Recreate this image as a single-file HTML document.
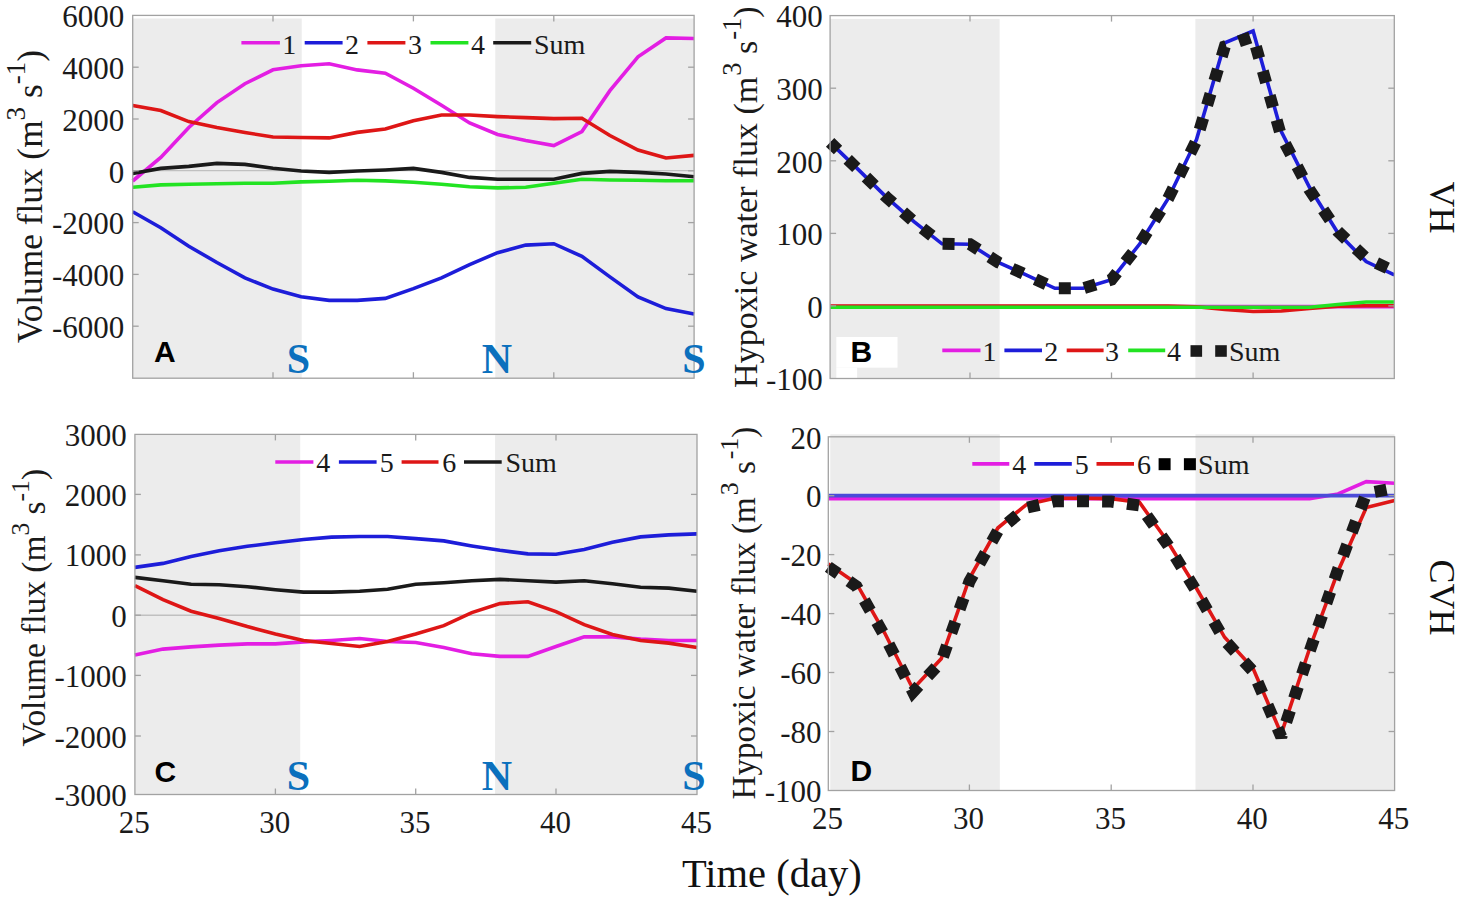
<!DOCTYPE html>
<html><head><meta charset="utf-8"><title>Hypoxic water flux</title>
<style>
html,body{margin:0;padding:0;background:#fff;}
body{width:1462px;height:904px;overflow:hidden;}
svg{display:block;}
text{font-family:"Liberation Serif",serif;fill:#1a1a1a;}
.tick text{font-size:31px;}
.leg text{font-size:28px;}
.pl{font-family:"Liberation Sans",sans-serif;font-weight:700;font-size:30px;fill:#000;}
.sn text{font-family:"Liberation Serif",serif;font-weight:700;font-size:42px;fill:#0b70bd;text-anchor:middle;}
.axl{fill:#111;}
</style></head>
<body>
<svg width="1462" height="904" viewBox="0 0 1462 904">
<rect width="1462" height="904" fill="#fff"/>
<rect x="132.7" y="18.5" width="169.0" height="359.7" fill="#ececec"/>
<rect x="495.3" y="18.5" width="198.8" height="359.7" fill="#ececec"/>
<line x1="132.7" y1="170.6" x2="694.1" y2="170.6" stroke="#c0c0c0" stroke-width="1.4"/>
<polyline points="132.7,181.0 160.8,157.4 188.8,127.5 216.9,102.6 244.9,83.7 273.0,69.8 301.1,65.8 329.2,63.8 357.2,69.9 385.3,73.2 413.4,88.2 441.5,105.3 469.6,123.0 497.6,134.5 525.7,140.5 553.8,145.5 581.9,131.5 609.9,90.7 638.0,56.8 666.0,37.9 694.1,38.5" fill="none" stroke="#e31ee3" stroke-width="3.6" stroke-linejoin="miter" stroke-linecap="butt" />
<polyline points="132.7,211.8 160.8,227.7 188.8,246.2 216.9,262.5 244.9,277.9 273.0,289.1 301.1,296.7 329.2,300.4 357.2,300.4 385.3,298.4 413.4,288.6 441.5,277.9 469.6,264.6 497.6,252.7 525.7,245.1 553.8,243.7 581.9,256.4 609.9,276.9 638.0,296.9 666.0,308.6 694.1,314.1" fill="none" stroke="#1d1dd9" stroke-width="3.6" stroke-linejoin="miter" stroke-linecap="butt" />
<polyline points="132.7,105.6 160.8,110.6 188.8,121.6 216.9,127.5 244.9,132.5 273.0,137.0 301.1,137.5 329.2,137.9 357.2,132.4 385.3,129.1 413.4,120.8 441.5,115.0 469.6,115.0 497.6,116.6 525.7,117.6 553.8,118.6 581.9,118.2 609.9,135.5 638.0,150.0 666.0,158.0 694.1,155.4" fill="none" stroke="#de1616" stroke-width="3.6" stroke-linejoin="miter" stroke-linecap="butt" />
<polyline points="132.7,187.3 160.8,184.9 188.8,184.3 216.9,183.7 244.9,183.3 273.0,183.3 301.1,181.9 329.2,181.3 357.2,180.3 385.3,180.9 413.4,182.3 441.5,184.3 469.6,186.7 497.6,187.9 525.7,187.3 553.8,183.3 581.9,179.3 609.9,180.0 638.0,180.3 666.0,180.7 694.1,180.7" fill="none" stroke="#22e322" stroke-width="3.6" stroke-linejoin="miter" stroke-linecap="butt" />
<polyline points="132.7,173.4 160.8,168.4 188.8,166.4 216.9,163.4 244.9,164.4 273.0,168.2 301.1,171.0 329.2,172.4 357.2,171.0 385.3,170.0 413.4,168.4 441.5,172.4 469.6,177.4 497.6,179.3 525.7,179.3 553.8,179.3 581.9,173.4 609.9,171.4 638.0,172.4 666.0,174.0 694.1,176.8" fill="none" stroke="#1a1a1a" stroke-width="3.6" stroke-linejoin="miter" stroke-linecap="butt" />
<g stroke-width="3.6"><line x1="241.4" y1="42.7" x2="279.9" y2="42.7" stroke="#e31ee3"/><line x1="304.7" y1="42.7" x2="342.6" y2="42.7" stroke="#1d1dd9"/><line x1="367.4" y1="42.7" x2="405.4" y2="42.7" stroke="#de1616"/><line x1="430.5" y1="42.7" x2="468.4" y2="42.7" stroke="#22e322"/><line x1="493.2" y1="42.7" x2="531.2" y2="42.7" stroke="#1a1a1a"/></g>
<g class="leg"><text x="282.3" y="53.8">1</text><text x="345.0" y="53.8">2</text><text x="408.0" y="53.8">3</text><text x="471.0" y="53.8">4</text><text x="534.0" y="53.8">Sum</text></g>
<g stroke="#a2a2a2" stroke-width="1.3" fill="none"><line x1="132.7" y1="67.2" x2="138.7" y2="67.2"/><line x1="694.1" y1="67.2" x2="688.1" y2="67.2"/><line x1="132.7" y1="119.0" x2="138.7" y2="119.0"/><line x1="694.1" y1="119.0" x2="688.1" y2="119.0"/><line x1="132.7" y1="170.8" x2="138.7" y2="170.8"/><line x1="694.1" y1="170.8" x2="688.1" y2="170.8"/><line x1="132.7" y1="222.6" x2="138.7" y2="222.6"/><line x1="694.1" y1="222.6" x2="688.1" y2="222.6"/><line x1="132.7" y1="274.4" x2="138.7" y2="274.4"/><line x1="694.1" y1="274.4" x2="688.1" y2="274.4"/><line x1="132.7" y1="326.2" x2="138.7" y2="326.2"/><line x1="694.1" y1="326.2" x2="688.1" y2="326.2"/><line x1="273.0" y1="15.4" x2="273.0" y2="21.4"/><line x1="273.0" y1="378.2" x2="273.0" y2="372.2"/><line x1="413.4" y1="15.4" x2="413.4" y2="21.4"/><line x1="413.4" y1="378.2" x2="413.4" y2="372.2"/><line x1="553.8" y1="15.4" x2="553.8" y2="21.4"/><line x1="553.8" y1="378.2" x2="553.8" y2="372.2"/><rect x="132.7" y="15.4" width="561.4" height="362.8" fill="none"/></g>
<g class="tick"><text x="124.3" y="27.1" text-anchor="end" font-size="31">6000</text><text x="124.3" y="78.9" text-anchor="end" font-size="31">4000</text><text x="124.3" y="130.7" text-anchor="end" font-size="31">2000</text><text x="124.3" y="182.5" text-anchor="end" font-size="31">0</text><text x="124.3" y="234.3" text-anchor="end" font-size="31">-2000</text><text x="124.3" y="286.1" text-anchor="end" font-size="31">-4000</text><text x="124.3" y="337.9" text-anchor="end" font-size="31">-6000</text></g>
<text class="pl" x="154.0" y="362">A</text>
<g class="sn"><text x="298.4" y="373">S</text><text x="497" y="373">N</text><text x="694" y="373">S</text></g>
<rect x="830.1" y="18.9" width="169.5" height="359.6" fill="#ececec"/>
<rect x="1195.4" y="18.9" width="198.9" height="359.6" fill="#ececec"/>
<line x1="830.1" y1="305.9" x2="1394.3" y2="305.9" stroke="#c0c0c0" stroke-width="1.4"/>
<polyline points="830.1,306.6 858.1,306.6 886.1,306.6 914.0,306.6 942.0,306.6 970.0,306.6 998.3,306.6 1026.6,306.6 1054.9,306.6 1083.2,306.6 1111.5,306.6 1139.8,306.6 1168.1,306.6 1196.5,306.6 1224.8,306.6 1253.1,306.6 1281.3,306.6 1309.6,306.6 1337.8,306.6 1366.1,306.6 1394.3,306.6" fill="none" stroke="#e31ee3" stroke-width="3.6" stroke-linejoin="miter" stroke-linecap="butt" />
<polyline points="830.1,142.4 858.1,169.4 886.1,196.9 914.0,221.7 942.0,243.8 970.0,244.2 998.3,262.4 1026.6,275.1 1054.9,288.3 1083.2,288.3 1111.5,279.6 1139.8,243.8 1168.1,198.7 1196.5,139.5 1224.8,42.9 1253.1,31.0 1281.3,131.5 1309.6,187.5 1337.8,232.8 1366.1,261.6 1394.3,274.8" fill="none" stroke="#1d1dd9" stroke-width="3.6" stroke-linejoin="miter" stroke-linecap="butt" />
<polyline points="830.1,306.0 858.1,306.0 886.1,306.0 914.0,306.0 942.0,306.0 970.0,306.0 998.3,306.0 1026.6,306.0 1054.9,306.0 1083.2,306.0 1111.5,306.0 1139.8,306.0 1168.1,306.0 1196.5,306.8 1224.8,309.5 1253.1,311.5 1281.3,311.0 1309.6,308.5 1337.8,306.2 1366.1,305.8 1394.3,305.8" fill="none" stroke="#de1616" stroke-width="3.6" stroke-linejoin="miter" stroke-linecap="butt" />
<polyline points="830.1,307.3 858.1,307.3 886.1,307.3 914.0,307.3 942.0,307.3 970.0,307.3 998.3,307.3 1026.6,307.3 1054.9,307.3 1083.2,307.3 1111.5,307.3 1139.8,307.3 1168.1,307.3 1196.5,307.3 1224.8,307.3 1253.1,307.3 1281.3,307.3 1309.6,307.3 1337.8,304.5 1366.1,302.0 1394.3,302.0" fill="none" stroke="#22e322" stroke-width="3.6" stroke-linejoin="miter" stroke-linecap="butt" />
<polyline points="830.1,142.4 858.1,169.4 886.1,196.9 914.0,221.7 942.0,243.8 970.0,244.2 998.3,262.4 1026.6,275.1 1054.9,288.3 1083.2,288.3 1111.5,279.6 1139.8,243.8 1168.1,198.7 1196.5,140.3 1224.8,46.4 1253.1,36.5 1281.3,136.5 1309.6,190.0 1337.8,231.3 1366.1,258.2 1394.3,271.4" fill="none" stroke="#1a1a1a" stroke-width="12.0" stroke-linejoin="miter" stroke-linecap="butt" stroke-dasharray="12.0 13.45" stroke-dashoffset="1" stroke-miterlimit="2"/>
<rect x="836.3" y="337" width="61.2" height="30.7" fill="#fff"/><rect x="836.3" y="367.7" width="20.8" height="10.3" fill="#fff"/>
<text class="pl" x="850.5" y="361.8">B</text>
<g stroke-width="3.6"><line x1="942.3" y1="350.4" x2="980.5" y2="350.4" stroke="#e31ee3"/><line x1="1004.4" y1="350.4" x2="1042" y2="350.4" stroke="#1d1dd9"/><line x1="1066.7" y1="350.4" x2="1103.6" y2="350.4" stroke="#de1616"/><line x1="1128.2" y1="350.4" x2="1165.2" y2="350.4" stroke="#22e322"/></g>
<rect x="1190.5" y="345.2" width="11.6" height="11.6" fill="#1a1a1a"/><rect x="1215.2" y="345.2" width="11.6" height="11.6" fill="#1a1a1a"/>
<g class="leg"><text x="982.6" y="360.5">1</text><text x="1044.2" y="360.5">2</text><text x="1105.0" y="360.5">3</text><text x="1167.1" y="360.5">4</text><text x="1228.9" y="360.5">Sum</text></g>
<g stroke="#a2a2a2" stroke-width="1.3" fill="none"><line x1="830.1" y1="88.2" x2="836.1" y2="88.2"/><line x1="1394.3" y1="88.2" x2="1388.3" y2="88.2"/><line x1="830.1" y1="160.8" x2="836.1" y2="160.8"/><line x1="1394.3" y1="160.8" x2="1388.3" y2="160.8"/><line x1="830.1" y1="233.4" x2="836.1" y2="233.4"/><line x1="1394.3" y1="233.4" x2="1388.3" y2="233.4"/><line x1="830.1" y1="305.9" x2="836.1" y2="305.9"/><line x1="1394.3" y1="305.9" x2="1388.3" y2="305.9"/><line x1="970.0" y1="15.6" x2="970.0" y2="21.6"/><line x1="970.0" y1="378.5" x2="970.0" y2="372.5"/><line x1="1111.5" y1="15.6" x2="1111.5" y2="21.6"/><line x1="1111.5" y1="378.5" x2="1111.5" y2="372.5"/><line x1="1253.1" y1="15.6" x2="1253.1" y2="21.6"/><line x1="1253.1" y1="378.5" x2="1253.1" y2="372.5"/><rect x="830.1" y="15.6" width="564.2" height="362.9" fill="none"/></g>
<g class="tick"><text x="822.8" y="27.3" text-anchor="end" font-size="30">400</text><text x="822.8" y="99.9" text-anchor="end" font-size="30">300</text><text x="822.8" y="172.5" text-anchor="end" font-size="30">200</text><text x="822.8" y="245.1" text-anchor="end" font-size="30">100</text><text x="822.8" y="317.6" text-anchor="end" font-size="30">0</text><text x="822.8" y="390.2" text-anchor="end" font-size="30">-100</text></g>
<rect x="134.9" y="435.2" width="165.3" height="359.3" fill="#ececec"/>
<rect x="495.1" y="435.2" width="201.9" height="359.3" fill="#ececec"/>
<line x1="134.9" y1="615.2" x2="697.0" y2="615.2" stroke="#c0c0c0" stroke-width="1.4"/>
<polyline points="134.9,655.0 163.0,649.1 191.1,646.9 219.2,645.1 247.3,643.9 275.4,643.9 303.5,641.9 331.5,640.5 359.6,638.5 387.6,641.5 415.7,642.5 443.8,647.5 471.8,653.8 499.9,656.4 527.9,656.4 556.0,646.5 584.2,636.9 612.4,636.9 640.6,639.1 668.8,640.5 697.0,640.5" fill="none" stroke="#e31ee3" stroke-width="3.6" stroke-linejoin="miter" stroke-linecap="butt" />
<polyline points="134.9,567.4 163.0,563.4 191.1,556.4 219.2,550.8 247.3,546.3 275.4,542.8 303.5,539.5 331.5,537.1 359.6,536.5 387.6,536.5 415.7,538.6 443.8,540.9 471.8,545.9 499.9,550.3 527.9,553.9 556.0,554.3 584.2,549.5 612.4,542.3 640.6,536.9 668.8,534.9 697.0,533.9" fill="none" stroke="#1d1dd9" stroke-width="3.6" stroke-linejoin="miter" stroke-linecap="butt" />
<polyline points="134.9,585.7 163.0,599.7 191.1,611.2 219.2,618.6 247.3,626.6 275.4,633.9 303.5,640.5 331.5,643.5 359.6,646.5 387.6,641.5 415.7,634.0 443.8,625.6 471.8,612.6 499.9,603.6 527.9,601.7 556.0,611.6 584.2,624.6 612.4,634.5 640.6,640.5 668.8,643.1 697.0,647.5" fill="none" stroke="#de1616" stroke-width="3.6" stroke-linejoin="miter" stroke-linecap="butt" />
<polyline points="134.9,577.4 163.0,580.7 191.1,584.3 219.2,584.7 247.3,586.7 275.4,589.7 303.5,592.1 331.5,592.1 359.6,591.3 387.6,589.3 415.7,584.3 443.8,582.7 471.8,580.7 499.9,579.4 527.9,580.7 556.0,582.1 584.2,580.7 612.4,583.7 640.6,587.3 668.8,588.1 697.0,591.3" fill="none" stroke="#1a1a1a" stroke-width="3.6" stroke-linejoin="miter" stroke-linecap="butt" />
<g stroke-width="3.6"><line x1="275.3" y1="462" x2="313.4" y2="462" stroke="#e31ee3"/><line x1="338.9" y1="462" x2="376.6" y2="462" stroke="#1d1dd9"/><line x1="401.6" y1="462" x2="438.5" y2="462" stroke="#de1616"/><line x1="464" y1="462" x2="501.7" y2="462" stroke="#1a1a1a"/></g>
<g class="leg"><text x="316.2" y="472.2">4</text><text x="379.8" y="472.2">5</text><text x="442.3" y="472.2">6</text><text x="505.4" y="472.2">Sum</text></g>
<g stroke="#a2a2a2" stroke-width="1.3" fill="none"><line x1="134.9" y1="494.4" x2="140.9" y2="494.4"/><line x1="697.0" y1="494.4" x2="691.0" y2="494.4"/><line x1="134.9" y1="554.9" x2="140.9" y2="554.9"/><line x1="697.0" y1="554.9" x2="691.0" y2="554.9"/><line x1="134.9" y1="615.2" x2="140.9" y2="615.2"/><line x1="697.0" y1="615.2" x2="691.0" y2="615.2"/><line x1="134.9" y1="675.4" x2="140.9" y2="675.4"/><line x1="697.0" y1="675.4" x2="691.0" y2="675.4"/><line x1="134.9" y1="736.0" x2="140.9" y2="736.0"/><line x1="697.0" y1="736.0" x2="691.0" y2="736.0"/><line x1="275.4" y1="434.4" x2="275.4" y2="440.4"/><line x1="275.4" y1="794.5" x2="275.4" y2="788.5"/><line x1="415.7" y1="434.4" x2="415.7" y2="440.4"/><line x1="415.7" y1="794.5" x2="415.7" y2="788.5"/><line x1="556.0" y1="434.4" x2="556.0" y2="440.4"/><line x1="556.0" y1="794.5" x2="556.0" y2="788.5"/><rect x="134.9" y="434.4" width="562.1" height="360.1" fill="none"/></g>
<g class="tick"><text x="126.8" y="446.1" text-anchor="end" font-size="31">3000</text><text x="126.8" y="506.1" text-anchor="end" font-size="31">2000</text><text x="126.8" y="566.1" text-anchor="end" font-size="31">1000</text><text x="126.8" y="626.9" text-anchor="end" font-size="31">0</text><text x="126.8" y="687.0" text-anchor="end" font-size="31">-1000</text><text x="126.8" y="747.7" text-anchor="end" font-size="31">-2000</text><text x="126.8" y="806.2" text-anchor="end" font-size="31">-3000</text></g>
<g class="tick"><text x="134.3" y="833.2" text-anchor="middle">25</text><text x="274.8" y="833.2" text-anchor="middle">30</text><text x="415.1" y="833.2" text-anchor="middle">35</text><text x="555.4" y="833.2" text-anchor="middle">40</text><text x="696.4" y="833.2" text-anchor="middle">45</text></g>
<text class="pl" x="154.5" y="781.8">C</text>
<g class="sn"><text x="298.4" y="790">S</text><text x="497" y="790">N</text><text x="694" y="790">S</text></g>
<rect x="830.3" y="434.3" width="169.5" height="356.2" fill="#ececec"/>
<rect x="1195.5" y="434.3" width="199.1" height="356.2" fill="#ececec"/>
<polyline points="828.3,498.8 856.5,498.8 884.7,498.8 913.0,498.8 941.2,498.8 969.4,498.8 997.8,498.8 1026.1,498.8 1054.5,498.8 1082.8,498.8 1111.2,498.8 1139.6,498.8 1167.9,498.8 1196.3,498.8 1224.6,498.8 1253.0,498.8 1281.3,498.8 1309.6,498.8 1338.0,494.0 1366.3,481.6 1394.6,483.2" fill="none" stroke="#e31ee3" stroke-width="3.6" stroke-linejoin="miter" stroke-linecap="butt" />
<polyline points="828.3,495.6 856.5,495.6 884.7,495.6 913.0,495.6 941.2,495.6 969.4,495.6 997.8,495.6 1026.1,495.6 1054.5,495.6 1082.8,495.6 1111.2,495.6 1139.6,495.6 1167.9,495.6 1196.3,495.6 1224.6,495.6 1253.0,495.6 1281.3,495.6 1309.6,495.6 1338.0,495.6 1366.3,495.6 1394.6,495.6" fill="none" stroke="#4b4bd8" stroke-width="3.6" stroke-linejoin="miter" stroke-linecap="butt" />
<polyline points="828.3,563.9 856.5,583.4 884.7,633.0 913.0,689.0 941.2,658.8 969.4,578.5 997.8,528.0 1026.1,504.8 1054.5,498.3 1082.8,498.3 1111.2,498.6 1139.6,502.5 1167.9,542.0 1196.3,588.0 1224.6,637.3 1253.0,668.3 1281.3,733.9 1309.6,648.5 1338.0,571.3 1366.3,507.6 1394.6,500.6" fill="none" stroke="#de1616" stroke-width="3.6" stroke-linejoin="miter" stroke-linecap="butt" />
<polyline points="828.3,566.9 856.5,586.4 884.7,636.0 913.0,692.0 941.2,661.8 969.4,581.5 997.8,531.0 1026.1,507.8 1054.5,501.3 1082.8,501.3 1111.2,501.6 1139.6,505.5 1167.9,545.0 1196.3,591.0 1224.6,640.3 1253.0,671.3 1281.3,736.9 1309.6,651.5 1338.0,569.5 1366.3,493.4 1394.6,488.0" fill="none" stroke="#1a1a1a" stroke-width="12.0" stroke-linejoin="miter" stroke-linecap="butt" stroke-dasharray="12.0 13.100000000000001" stroke-miterlimit="2"/>
<g stroke-width="3.6"><line x1="972.3" y1="463.9" x2="1009.3" y2="463.9" stroke="#e31ee3"/><line x1="1034.3" y1="463.9" x2="1071.8" y2="463.9" stroke="#1d1dd9"/><line x1="1096.5" y1="463.9" x2="1134" y2="463.9" stroke="#de1616"/></g>
<rect x="1158.6" y="458.2" width="12" height="12" fill="#000"/><rect x="1183.9" y="458.2" width="12" height="12" fill="#000"/>
<g class="leg"><text x="1012.3" y="473.5">4</text><text x="1074.8" y="473.5">5</text><text x="1137.0" y="473.5">6</text><text x="1198.1" y="473.5">Sum</text></g>
<g stroke="#a2a2a2" stroke-width="1.3" fill="none"><line x1="828.3" y1="495.7" x2="834.3" y2="495.7"/><line x1="1394.6" y1="495.7" x2="1388.6" y2="495.7"/><line x1="828.3" y1="554.6" x2="834.3" y2="554.6"/><line x1="1394.6" y1="554.6" x2="1388.6" y2="554.6"/><line x1="828.3" y1="613.6" x2="834.3" y2="613.6"/><line x1="1394.6" y1="613.6" x2="1388.6" y2="613.6"/><line x1="828.3" y1="672.5" x2="834.3" y2="672.5"/><line x1="1394.6" y1="672.5" x2="1388.6" y2="672.5"/><line x1="828.3" y1="731.5" x2="834.3" y2="731.5"/><line x1="1394.6" y1="731.5" x2="1388.6" y2="731.5"/><line x1="969.4" y1="436.8" x2="969.4" y2="442.8"/><line x1="969.4" y1="790.5" x2="969.4" y2="784.5"/><line x1="1111.2" y1="436.8" x2="1111.2" y2="442.8"/><line x1="1111.2" y1="790.5" x2="1111.2" y2="784.5"/><line x1="1253.0" y1="436.8" x2="1253.0" y2="442.8"/><line x1="1253.0" y1="790.5" x2="1253.0" y2="784.5"/><rect x="828.3" y="436.8" width="566.3" height="353.7" fill="none"/></g>
<g class="tick"><text x="821.5" y="448.5" text-anchor="end" font-size="30">20</text><text x="821.5" y="507.4" text-anchor="end" font-size="30">0</text><text x="821.5" y="566.3" text-anchor="end" font-size="30">-20</text><text x="821.5" y="625.3" text-anchor="end" font-size="30">-40</text><text x="821.5" y="684.2" text-anchor="end" font-size="30">-60</text><text x="821.5" y="743.2" text-anchor="end" font-size="30">-80</text><text x="821.5" y="802.1" text-anchor="end" font-size="30">-100</text></g>
<g class="tick"><text x="827.5" y="829.2" text-anchor="middle">25</text><text x="968.6" y="829.2" text-anchor="middle">30</text><text x="1110.4" y="829.2" text-anchor="middle">35</text><text x="1252.2" y="829.2" text-anchor="middle">40</text><text x="1393.8" y="829.2" text-anchor="middle">45</text></g>
<text class="pl" x="850.5" y="781">D</text>
<g class="axl">
<text transform="translate(42.0,343.3) rotate(-90)" font-size="35.3">Volume flux (m<tspan font-size="27" dx="0" dy="-16.8">3</tspan><tspan dy="16.8"> s</tspan><tspan font-size="27" dx="0" dy="-16.8">-1</tspan><tspan dy="16.8">)</tspan></text>
<text transform="translate(45.0,746.4) rotate(-90)" font-size="33.4">Volume flux (m<tspan font-size="25.6" dx="0" dy="-15.9">3</tspan><tspan dy="15.9"> s</tspan><tspan font-size="25.6" dx="0" dy="-15.9">-1</tspan><tspan dy="15.9">)</tspan></text>
<text transform="translate(757.0,388.0) rotate(-90)" font-size="34.1">Hypoxic water flux (m<tspan font-size="26.5" dx="0.9" dy="-16.5">3</tspan><tspan dy="16.5"> s</tspan><tspan font-size="26.5" dx="0.9" dy="-16.5">-1</tspan><tspan dy="16.5">)</tspan></text>
<text transform="translate(754.5,799.4) rotate(-90)" font-size="33.1">Hypoxic water flux (m<tspan font-size="25.9" dx="1.9" dy="-16.1">3</tspan><tspan dy="16.1"> s</tspan><tspan font-size="25.9" dx="1.9" dy="-16.1">-1</tspan><tspan dy="16.1">)</tspan></text>
</g>
<text class="axl" x="682" y="887.4" font-size="40.5">Time (day)</text>
<text class="axl" transform="translate(1430,181.5) rotate(90)" font-size="36">VH</text>
<text class="axl" transform="translate(1429.5,559.5) rotate(90)" font-size="36">CVH</text>
</svg>
</body></html>
